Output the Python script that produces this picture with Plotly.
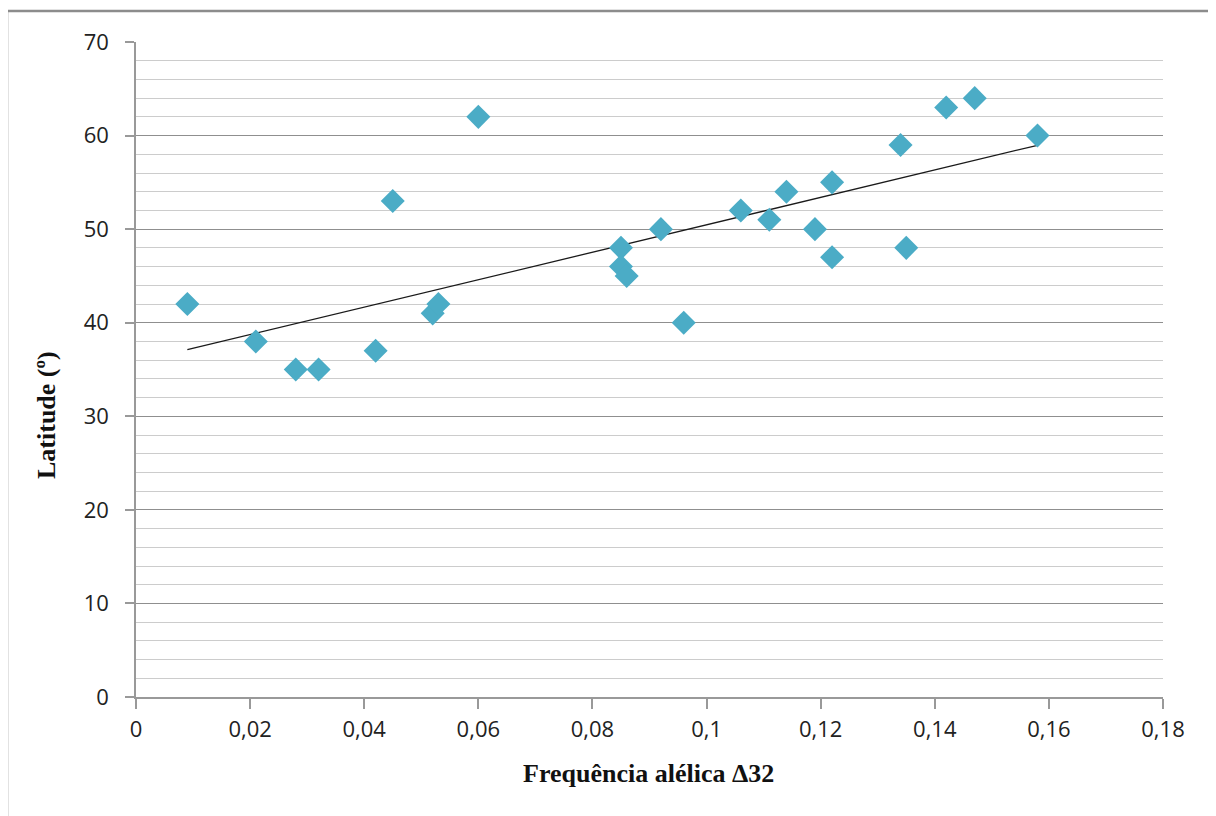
import numpy as np
import plotly.graph_objects as go

freq = [0.009, 0.021, 0.028, 0.032, 0.042, 0.045, 0.052, 0.053, 0.060,
        0.085, 0.085, 0.086, 0.092, 0.096, 0.106, 0.111, 0.114, 0.119,
        0.122, 0.122, 0.134, 0.135, 0.142, 0.147, 0.158]
lat = [42, 38, 35, 35, 37, 53, 41, 42, 62,
       48, 46, 45, 50, 40, 52, 51, 54, 50,
       55, 47, 59, 48, 63, 64, 60]

x_ticks = [0, 0.02, 0.04, 0.06, 0.08, 0.1, 0.12, 0.14, 0.16, 0.18]
x_labels = ["0", "0,02", "0,04", "0,06", "0,08", "0,1", "0,12", "0,14", "0,16", "0,18"]
y_ticks = [0, 10, 20, 30, 40, 50, 60, 70]

slope, intercept = np.polyfit(freq, lat, 1)
tx = [min(freq), max(freq)]
ty = [slope * v + intercept for v in tx]

fig = go.Figure()
fig.add_trace(go.Scatter(x=tx, y=ty, mode="lines",
                         line=dict(color="#1a1a1a", width=1.3),
                         hoverinfo="skip", showlegend=False))
fig.add_trace(go.Scatter(x=freq, y=lat, mode="markers",
                         marker=dict(symbol="diamond", size=18.5, color="#4bacc6",
                                     line=dict(width=0)),
                         showlegend=False))

OFF = 8  # page body margin
W, H = 1216, 816
ml, mr, mt, mb = 136 - OFF, 53 + OFF, 42 - OFF, 119 + OFF
pw, ph = W - ml - mr, H - mt - mb


def px(xp):
    return (xp - OFF - ml) / pw


def py(yp):
    return 1 - (yp - OFF - mt) / ph


fig.update_layout(
    width=W, height=H,
    margin=dict(l=ml, r=mr, t=mt, b=mb),
    paper_bgcolor="white", plot_bgcolor="white",
    font=dict(family="Open Sans", size=22, color="#222222"),
    xaxis=dict(range=[0, 0.18], tickvals=x_ticks, ticktext=x_labels,
               showgrid=False, zeroline=False, showline=True,
               linecolor="#999999", linewidth=1.5,
               ticks="outside", ticklen=10, tickcolor="#999999", tickwidth=1.5,
               ticklabelstandoff=2,
               tickfont=dict(family="Open Sans", size=22, color="#222222")),
    yaxis=dict(range=[0, 70], tickvals=y_ticks,
               showgrid=True, gridcolor="#8f8f8f", gridwidth=1.2,
               minor=dict(dtick=2, showgrid=True, gridcolor="#cccccc", gridwidth=1.2,
                          ticks=""),
               zeroline=False, showline=True,
               linecolor="#999999", linewidth=1.5,
               ticks="outside", ticklen=9, tickcolor="#999999", tickwidth=1.5,
               ticklabelstandoff=12,
               tickfont=dict(family="Open Sans", size=22, color="#222222")),
    annotations=[
        dict(text="<b>Frequência alélica Δ32</b>", xref="paper", yref="paper",
             x=px(648), y=py(773), showarrow=False,
             xanchor="center", yanchor="middle",
             font=dict(family="Liberation Serif", size=26, color="#111111")),
        dict(text="<b>Latitude (º)</b>", xref="paper", yref="paper",
             x=px(46), y=py(415), showarrow=False,
             xanchor="center", yanchor="middle", textangle=-90,
             font=dict(family="Liberation Serif", size=26, color="#111111")),
    ],
    shapes=[
        dict(type="line", xref="paper", yref="paper",
             x0=px(7), x1=px(7), y0=py(11), y1=-0.3,
             line=dict(color="#8c8c8c", width=2.5)),
        dict(type="line", xref="paper", yref="paper",
             x0=px(7), x1=1.1, y0=py(11), y1=py(11),
             line=dict(color="#8c8c8c", width=2.5)),
    ],
)

fig.write_html("out.html")
